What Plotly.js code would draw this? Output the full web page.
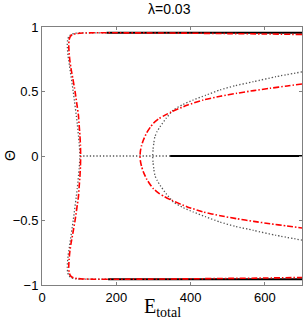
<!DOCTYPE html>
<html>
<head>
<meta charset="utf-8">
<script src="https://cdn.plot.ly/plotly-3.0.1.min.js"></script>
<style>html,body{margin:0;padding:0;background:#fff;}#chart{width:305px;height:321px;}</style>
</head>
<body>
<div id="chart"></div>
<script>
// Stable branches (solid black)
const stableZeroE = [345, 700];
const stableZeroTheta = [0, 0];
const stableTopE = [174, 700];
const stableTopTheta = [0.955, 0.955];
const stableBotE = [178, 700];
const stableBotTheta = [-0.955, -0.955];

// Unstable branches (dotted gray)
const unstZeroE = [102, 345];
const unstZeroTheta = [0, 0];
const unstLeftE = [174, 120, 90, 78, 72, 69, 68, 70, 74, 84, 95, 100, 102, 100, 95, 84, 74, 70, 68, 69, 72, 78, 90, 120, 178];
const unstLeftTheta = [0.955, 0.955, 0.952, 0.942, 0.925, 0.9, 0.86, 0.78, 0.7, 0.5, 0.25, 0.1, 0, -0.1, -0.25, -0.5, -0.7, -0.78, -0.86, -0.9, -0.925, -0.942, -0.952, -0.955, -0.955];
const unstRightE = [700, 630, 569, 520, 479, 440, 407, 380, 354, 335, 318, 310, 304, 301, 299, 298, 299, 301, 304, 310, 318, 335, 354, 380, 407, 440, 479, 520, 569, 630, 700];
const unstRightTheta = [0.652, 0.615, 0.576, 0.545, 0.512, 0.47, 0.434, 0.4, 0.357, 0.295, 0.227, 0.19, 0.15, 0.1, 0.05, 0, -0.05, -0.1, -0.15, -0.19, -0.227, -0.295, -0.357, -0.4, -0.434, -0.47, -0.512, -0.545, -0.576, -0.615, -0.652];

// Approximation (red dash-dot)
const redLeftE = [700, 600, 500, 400, 300, 200, 140, 110, 95, 85, 79, 75, 73, 72, 73, 75, 78, 83, 89, 94, 98, 100, 102, 103.5, 104, 103.5, 102, 100, 98, 94, 89, 83, 78, 75, 73, 72, 73, 75, 79, 85, 95, 110, 140, 200, 300, 400, 500, 600, 700];
const redLeftTheta = [0.942, 0.946, 0.949, 0.952, 0.954, 0.955, 0.955, 0.953, 0.95, 0.945, 0.935, 0.92, 0.9, 0.86, 0.8, 0.74, 0.68, 0.6, 0.5, 0.4, 0.318, 0.24, 0.163, 0.08, 0, -0.08, -0.163, -0.24, -0.318, -0.4, -0.5, -0.6, -0.68, -0.74, -0.8, -0.86, -0.9, -0.92, -0.935, -0.945, -0.95, -0.953, -0.955, -0.955, -0.954, -0.952, -0.949, -0.946, -0.942];
const redRightE = [700, 660, 614, 570, 524, 480, 434, 390, 349, 330, 315, 300, 292, 282, 273, 268, 265, 264, 265, 268, 273, 282, 292, 300, 315, 330, 349, 390, 434, 480, 524, 570, 614, 660, 700];
const redRightTheta = [0.558, 0.543, 0.525, 0.507, 0.486, 0.463, 0.434, 0.393, 0.343, 0.315, 0.29, 0.254, 0.225, 0.18, 0.124, 0.08, 0.04, 0, -0.04, -0.08, -0.124, -0.18, -0.225, -0.254, -0.29, -0.315, -0.343, -0.393, -0.434, -0.463, -0.486, -0.507, -0.525, -0.543, -0.558];

const xTicks = [0, 200, 400, 600];
const yTicks = [-1, -0.5, 0, 0.5, 1];
const yTickText = ['\u22121', '\u22120.5', '0', '0.5', '1'];
const titleText = '\u03bb=0.03';

const black = {color: '#000', width: 2, dash: 'solid'};
const grayPlain = {color: '#555', width: 1.3, dash: '1.3px,2px'};
const gray = {color: '#555', width: 1.3, dash: '1.3px,2px', shape: 'spline', smoothing: 0.6};
const red = {color: '#ff0000', width: 1.6, dash: '6px,2px,1.5px,2px', shape: 'spline', smoothing: 0.6};

function tr(x, y, line) {
  return {x: x, y: y, type: 'scatter', mode: 'lines', line: line, hoverinfo: 'skip', showlegend: false};
}

const data = [
  tr(unstZeroE, unstZeroTheta, grayPlain),
  tr(unstLeftE, unstLeftTheta, gray),
  tr(unstRightE, unstRightTheta, gray),
  tr(stableZeroE, stableZeroTheta, black),
  tr(stableTopE, stableTopTheta, black),
  tr(stableBotE, stableBotTheta, black),
  tr(redLeftE, redLeftTheta, red),
  tr(redRightE, redRightTheta, red)
];

const axisCommon = {
  showgrid: false, zeroline: false, showline: true, linecolor: '#808080', linewidth: 1,
  mirror: 'ticks', ticks: 'inside', ticklen: 3, tickcolor: '#808080', tickwidth: 1,
  tickfont: {family: 'Liberation Sans, Arial, sans-serif', size: 13, color: '#000'}
};

const layout = {
  width: 305, height: 321,
  margin: {l: 42, r: 3, t: 27, b: 36, pad: 0},
  paper_bgcolor: '#fff', plot_bgcolor: '#fff',
  showlegend: false,
  xaxis: Object.assign({}, axisCommon, {range: [0, 700], tickvals: xTicks, ticktext: xTicks.map(String)}),
  yaxis: Object.assign({}, axisCommon, {range: [-1, 1], tickvals: yTicks, ticktext: yTickText}),
  annotations: [
    {text: titleText, xref: 'paper', yref: 'paper', x: 0.492, y: 1, yshift: 18, xanchor: 'center', yanchor: 'middle', showarrow: false,
     font: {family: 'Liberation Sans, Arial, sans-serif', size: 14, color: '#000'}},
    {text: '\u0398', xref: 'paper', yref: 'paper', x: 0, xshift: -32, y: 0.5, xanchor: 'center', yanchor: 'middle', textangle: -90, showarrow: false,
     font: {family: 'Liberation Sans, Arial, sans-serif', size: 14, color: '#000'}},
    {text: 'E<sub>total</sub>', xref: 'paper', yref: 'paper', x: 0.465, y: 0, yshift: -22, xanchor: 'center', yanchor: 'middle', showarrow: false,
     font: {family: 'Liberation Serif, Times New Roman, serif', size: 20, color: '#000'}}
  ]
};

Plotly.newPlot('chart', data, layout, {staticPlot: true, displayModeBar: false});
</script>
</body>
</html>
